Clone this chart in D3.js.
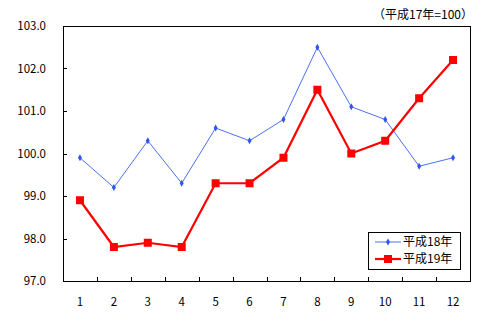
<!DOCTYPE html>
<html>
<head>
<meta charset="utf-8">
<script src="https://cdn.jsdelivr.net/npm/d3@7"></script>
<style>
  body { margin: 0; background: #fff; }
  text { font-family: "Noto Sans CJK JP", "DejaVu Sans", sans-serif; font-size: 11.5px; fill: #000; }
  .jp { font-size: 12px; }
</style>
</head>
<body>
<div id="chart"></div>
<script>
const width = 495, height = 328;
const margin = { top: 26, right: 25, bottom: 47, left: 63 };

const months = ["1", "2", "3", "4", "5", "6", "7", "8", "9", "10", "11", "12"];
const h18 = [99.9, 99.2, 100.3, 99.3, 100.6, 100.3, 100.8, 102.5, 101.1, 100.8, 99.7, 99.9];
const h19 = [98.9, 97.8, 97.9, 97.8, 99.3, 99.3, 99.9, 101.5, 100.0, 100.3, 101.3, 102.2];
const yTicks = [97, 98, 99, 100, 101, 102, 103];

const svg = d3.select("#chart").append("svg")
    .attr("width", width)
    .attr("height", height);

const x = d3.scaleBand()
    .domain(months)
    .range([margin.left, width - margin.right]);

const y = d3.scaleLinear()
    .domain([97, 103])
    .range([height - margin.bottom, margin.top]);

// plot frame
svg.append("rect")
    .attr("x", margin.left + 0.5)
    .attr("y", margin.top + 0.5)
    .attr("width", width - margin.right - margin.left)
    .attr("height", height - margin.bottom - margin.top)
    .attr("fill", "none")
    .attr("stroke", "#000");

// y axis ticks (inward) and labels
svg.selectAll(".ytick")
    .data(yTicks)
    .enter().append("line")
    .attr("x1", margin.left)
    .attr("x2", margin.left + 4)
    .attr("y1", d => Math.round(y(d)) + 0.5)
    .attr("y2", d => Math.round(y(d)) + 0.5)
    .attr("stroke", "#000");

svg.selectAll(".ylab")
    .data(yTicks)
    .enter().append("text")
    .attr("x", 46)
    .attr("y", d => y(d) + 4)
    .attr("text-anchor", "end")
    .text(d => d.toFixed(1));

// x axis ticks (inward) at band boundaries
const bounds = months.slice(1).map(m => x(m));
svg.selectAll(".xtick")
    .data(bounds)
    .enter().append("line")
    .attr("x1", d => Math.round(d) + 0.5)
    .attr("x2", d => Math.round(d) + 0.5)
    .attr("y1", height - margin.bottom)
    .attr("y2", height - margin.bottom - 4)
    .attr("stroke", "#000");

svg.selectAll(".xlab")
    .data(months)
    .enter().append("text")
    .attr("x", d => x(d) + x.bandwidth() / 2)
    .attr("y", 306)
    .attr("text-anchor", "middle")
    .text(d => d);

// note
svg.append("text")
    .attr("class", "jp")
    .attr("x", 473)
    .attr("y", 19)
    .attr("text-anchor", "end")
    .text("（平成17年=100）");

const cx = (d, i) => x(months[i]) + x.bandwidth() / 2;
const line = d3.line().x((d, i) => cx(d, i)).y(d => y(d));

// 平成18年
svg.append("path")
    .datum(h18)
    .attr("d", line)
    .attr("fill", "none")
    .attr("stroke", "#4a72f0")
    .attr("stroke-width", 1);

svg.selectAll(".m18")
    .data(h18)
    .enter().append("path")
    .attr("d", d3.symbol(d3.symbolDiamond, 14))
    .attr("transform", (d, i) => `translate(${cx(d, i)},${y(d)})`)
    .attr("fill", "#3355ee");

// 平成19年
svg.append("path")
    .datum(h19)
    .attr("d", line)
    .attr("fill", "none")
    .attr("stroke", "#ff0000")
    .attr("stroke-width", 2.2);

svg.selectAll(".m19")
    .data(h19)
    .enter().append("rect")
    .attr("x", (d, i) => cx(d, i) - 4)
    .attr("y", d => y(d) - 4)
    .attr("width", 8)
    .attr("height", 8)
    .attr("fill", "#ff0000");

// legend
const lg = svg.append("g").attr("transform", "translate(368,232)");
lg.append("rect")
    .attr("x", 0.5).attr("y", 0.5)
    .attr("width", 92).attr("height", 37)
    .attr("fill", "#fff")
    .attr("stroke", "#000");

lg.append("line")
    .attr("x1", 7).attr("x2", 33).attr("y1", 10).attr("y2", 10)
    .attr("stroke", "#4a72f0");
lg.append("path")
    .attr("d", d3.symbol(d3.symbolDiamond, 14))
    .attr("transform", "translate(20,10)")
    .attr("fill", "#3355ee");
lg.append("text").attr("class", "jp").attr("x", 35).attr("y", 14).text("平成18年");

lg.append("line")
    .attr("x1", 7).attr("x2", 33).attr("y1", 27).attr("y2", 27)
    .attr("stroke", "#ff0000").attr("stroke-width", 2.2);
lg.append("rect")
    .attr("x", 16).attr("y", 23).attr("width", 8).attr("height", 8)
    .attr("fill", "#ff0000");
lg.append("text").attr("class", "jp").attr("x", 35).attr("y", 31).text("平成19年");
</script>
</body>
</html>
